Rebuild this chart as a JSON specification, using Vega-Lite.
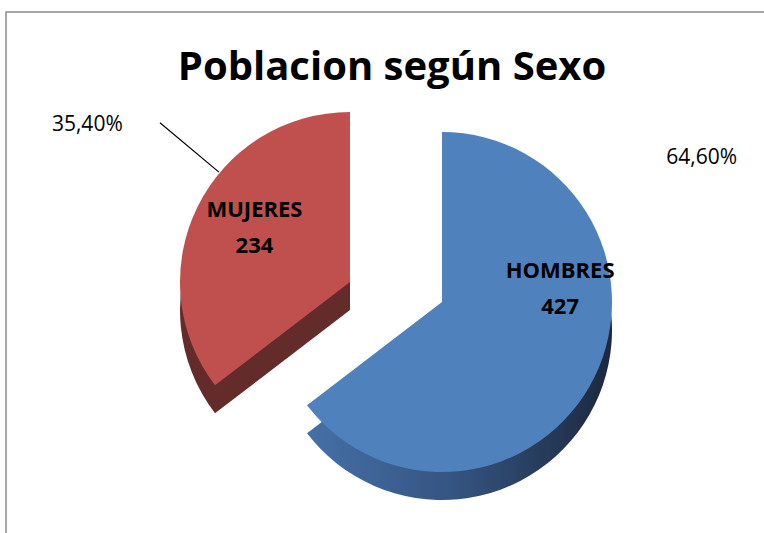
{
  "$schema": "https://vega.github.io/schema/vega-lite/v6.json",
  "autosize": "none",
  "width": 762,
  "height": 525,
  "padding": {"left": 6, "top": 12, "right": -4, "bottom": -4},
  "background": "white",
  "view": {"stroke": "#8a8a8a", "strokeWidth": 1.5},
  "config": {
    "font": "Open Sans",
    "locale": {"number": {"decimal": ",", "thousands": ".", "grouping": [3], "currency": ["", " €"]}}
  },
  "title": {
    "text": "Poblacion según Sexo",
    "font": "Open Sans",
    "fontSize": 40,
    "fontWeight": "bold",
    "color": "#000000",
    "frame": "group",
    "anchor": "middle",
    "offset": -76,
    "dx": 5
  },
  "data": {
    "values": [
      {"sexo": "HOMBRES", "valor": 427, "porcentaje": 0.646},
      {"sexo": "MUJERES", "valor": 234, "porcentaje": 0.354}
    ]
  },
  "encoding": {
    "theta": {"field": "valor", "type": "quantitative", "stack": true},
    "order": {"field": "sexo", "type": "nominal"},
    "detail": {"field": "sexo", "type": "nominal"}
  },
  "layer": [
    {
      "mark": {"type": "arc", "outerRadius": 170, "fill": "#632b2a", "xOffset": -37, "yOffset": 35.5},
      "encoding": {"opacity": {"condition": {"test": "datum.sexo === 'MUJERES'", "value": 1}, "value": 0}}
    },
    {
      "mark": {"type": "arc", "outerRadius": 170, "fill": "#c0504d", "xOffset": -37, "yOffset": 7.5},
      "encoding": {"opacity": {"condition": {"test": "datum.sexo === 'MUJERES'", "value": 1}, "value": 0}}
    },
    {
      "mark": {
        "type": "arc", "outerRadius": 170, "xOffset": 55, "yOffset": 55.5,
        "fill": {"gradient": "linear", "x1": 0, "y1": 0, "x2": 1, "y2": 0,
          "stops": [{"offset": 0, "color": "#4670a8"}, {"offset": 0.5, "color": "#34537f"}, {"offset": 1, "color": "#1c283e"}]}
      },
      "encoding": {"opacity": {"condition": {"test": "datum.sexo === 'HOMBRES'", "value": 1}, "value": 0}}
    },
    {
      "mark": {"type": "arc", "outerRadius": 170, "fill": "#4f81bd", "xOffset": 55, "yOffset": 27.5},
      "encoding": {"opacity": {"condition": {"test": "datum.sexo === 'HOMBRES'", "value": 1}, "value": 0}}
    },
    {
      "mark": {"type": "arc", "innerRadius": 171, "outerRadius": 248, "thetaOffset": 0.239, "padAngle": 3, "fill": null, "stroke": "#000000", "strokeWidth": 1.2, "xOffset": -37, "yOffset": 7.5},
      "encoding": {"strokeOpacity": {"condition": {"test": "datum.sexo === 'MUJERES'", "value": 1}, "value": 0}}
    },
    {
      "mark": {"type": "text", "radius": 110, "thetaOffset": 0.06, "xOffset": -37, "yOffset": 7.5, "dy": -17, "font": "Open Sans", "fontSize": 22, "fontWeight": "bold", "color": "#000000"},
      "encoding": {"text": {"condition": {"test": "datum.sexo === 'MUJERES'", "field": "sexo"}, "value": ""}}
    },
    {
      "mark": {"type": "text", "radius": 110, "thetaOffset": 0.06, "xOffset": -37, "yOffset": 7.5, "dy": 19, "font": "Open Sans", "fontSize": 22, "fontWeight": "bold", "color": "#000000"},
      "encoding": {"text": {"condition": {"test": "datum.sexo === 'MUJERES'", "field": "valor", "type": "quantitative"}, "value": ""}}
    },
    {
      "mark": {"type": "text", "radius": 119, "thetaOffset": -0.58, "xOffset": 55, "yOffset": 27.5, "dy": -17, "font": "Open Sans", "fontSize": 22, "fontWeight": "bold", "color": "#000000"},
      "encoding": {"text": {"condition": {"test": "datum.sexo === 'HOMBRES'", "field": "sexo"}, "value": ""}}
    },
    {
      "mark": {"type": "text", "radius": 119, "thetaOffset": -0.58, "xOffset": 55, "yOffset": 27.5, "dy": 19, "font": "Open Sans", "fontSize": 22, "fontWeight": "bold", "color": "#000000"},
      "encoding": {"text": {"condition": {"test": "datum.sexo === 'HOMBRES'", "field": "valor", "type": "quantitative"}, "value": ""}}
    },
    {
      "mark": {"type": "text", "radius": 306, "thetaOffset": 0.08, "xOffset": -37, "yOffset": 7.5, "font": "Open Sans", "fontSize": 21, "color": "#000000"},
      "encoding": {"text": {"condition": {"test": "datum.sexo === 'MUJERES'", "field": "porcentaje", "type": "quantitative", "format": ".2%"}, "value": ""}}
    },
    {
      "mark": {"type": "text", "radius": 297, "thetaOffset": -0.965, "xOffset": 55, "yOffset": 27.5, "font": "Open Sans", "fontSize": 21, "color": "#000000"},
      "encoding": {"text": {"condition": {"test": "datum.sexo === 'HOMBRES'", "field": "porcentaje", "type": "quantitative", "format": ".2%"}, "value": ""}}
    }
  ]
}
